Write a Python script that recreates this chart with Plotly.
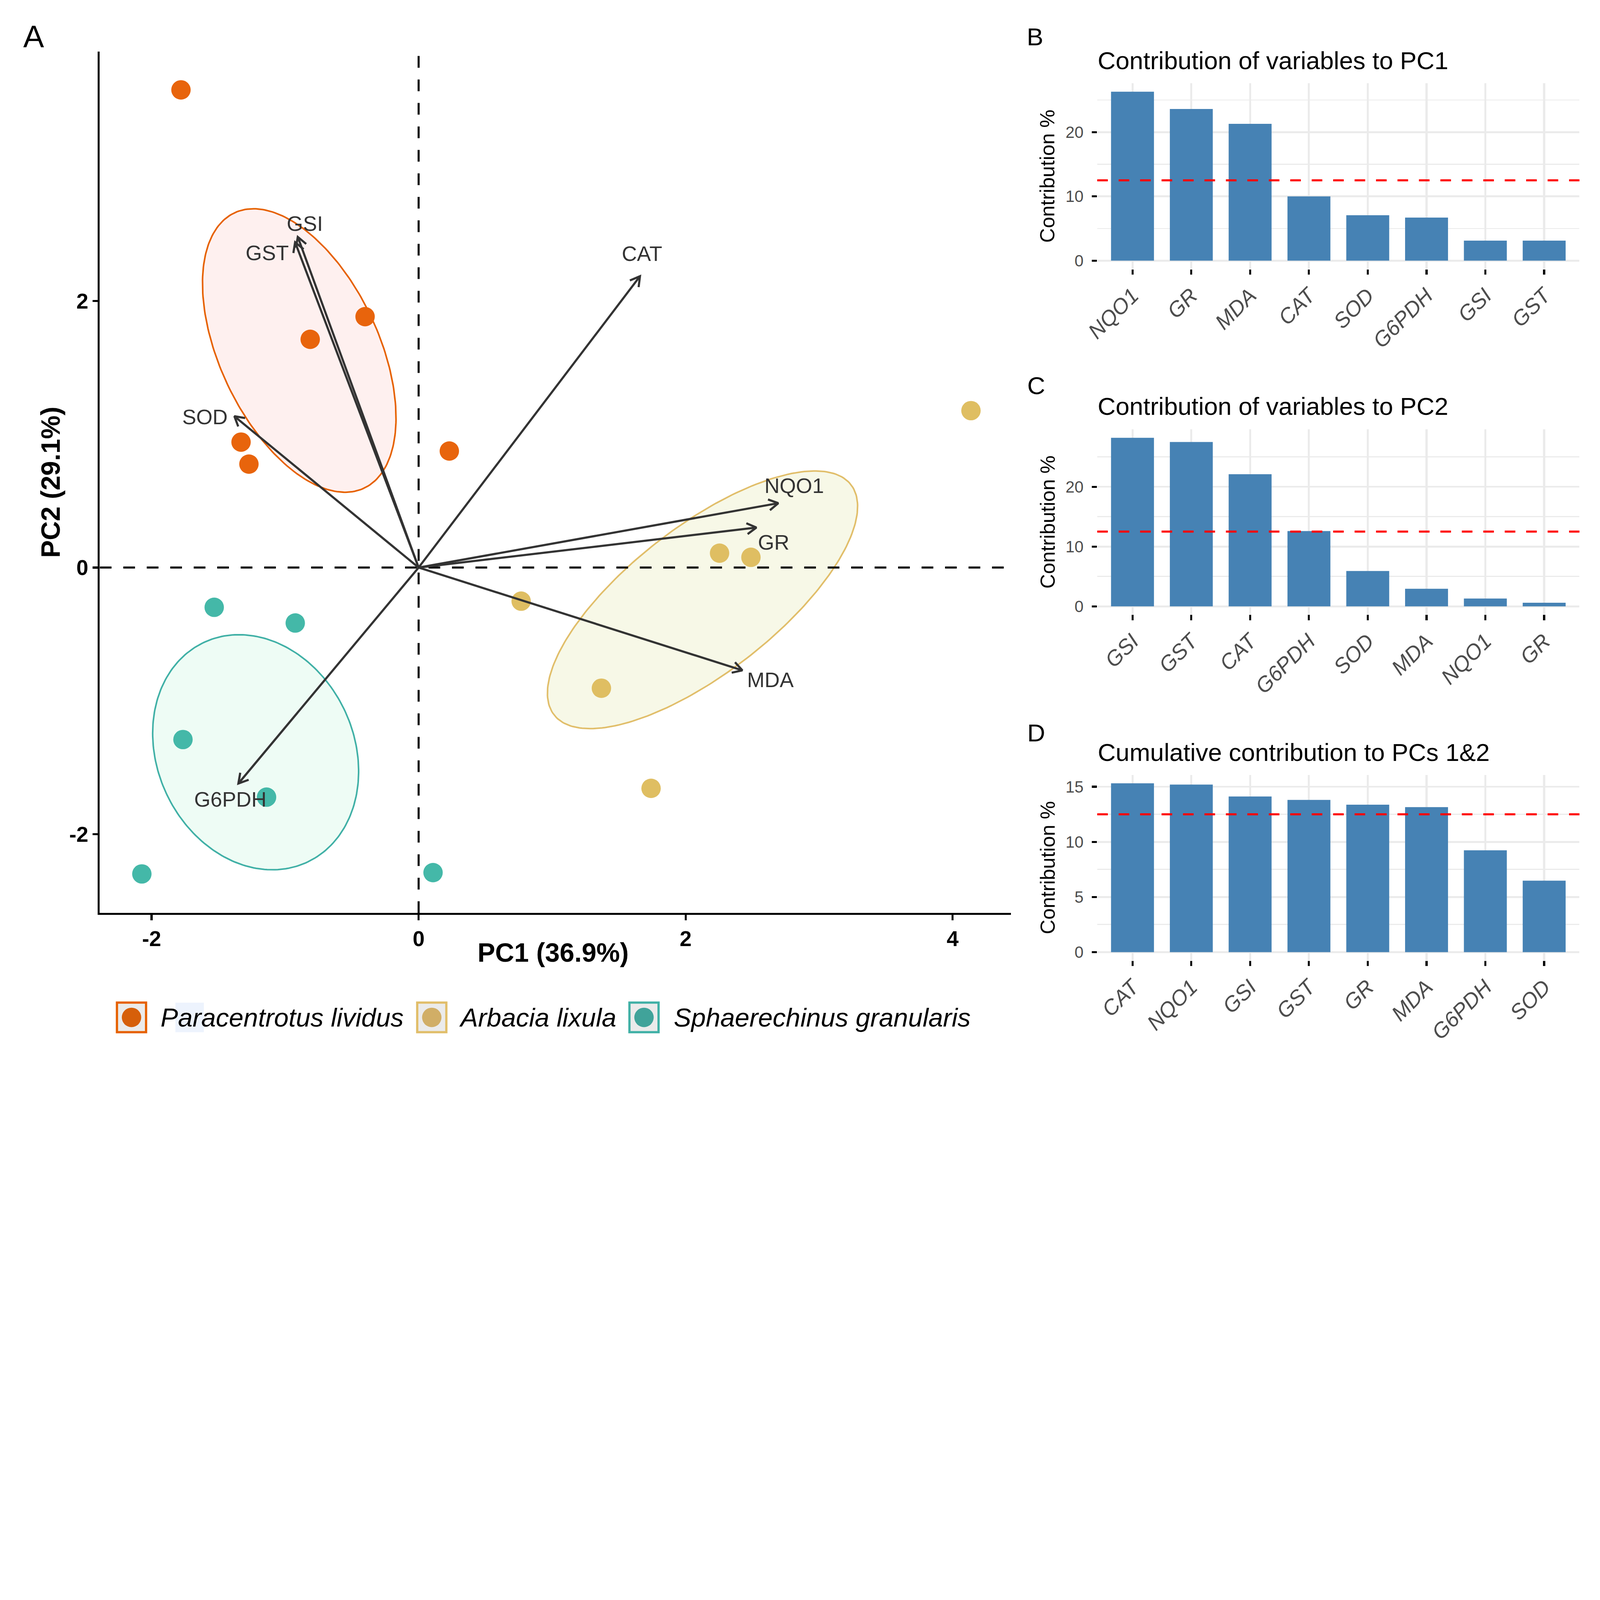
import numpy as np
import plotly.graph_objects as go

W, H = 7087, 4724
FONT = "Liberation Sans"

# ---------------- data ----------------
species = ["Paracentrotus lividus", "Arbacia lixula", "Sphaerechinus granularis"]
pl_x = [-1.780, -0.401, -0.812, -1.330, -1.271, 0.230]
pl_y = [3.583, 1.882, 1.712, 0.941, 0.776, 0.874]
al_x = [4.137, 2.254, 2.489, 0.768, 1.369, 1.741]
al_y = [1.177, 0.108, 0.077, -0.252, -0.905, -1.656]
sg_x = [-1.531, -0.924, -1.765, -1.139, -2.073, 0.108]
sg_y = [-0.298, -0.416, -1.290, -1.722, -2.298, -2.288]

var_names = ["GSI", "GST", "SOD", "CAT", "NQO1", "GR", "MDA", "G6PDH"]
var_pc1 = [-0.905, -0.925, -1.380, 1.658, 2.694, 2.530, 2.425, -1.350]
var_pc2 = [2.480, 2.440, 1.135, 2.185, 0.483, 0.300, -0.771, -1.620]

pc1_vars = ["NQO1", "GR", "MDA", "CAT", "SOD", "G6PDH", "GSI", "GST"]
pc1_vals = [26.3, 23.6, 21.3, 10.0, 7.06, 6.70, 3.12, 3.12]
pc2_vars = ["GSI", "GST", "CAT", "G6PDH", "SOD", "MDA", "NQO1", "GR"]
pc2_vals = [28.2, 27.5, 22.1, 12.6, 5.92, 2.94, 1.30, 0.60]
pc12_vars = ["CAT", "NQO1", "GSI", "GST", "GR", "MDA", "G6PDH", "SOD"]
pc12_vals = [15.31, 15.20, 14.12, 13.81, 13.37, 13.15, 9.24, 6.48]
expected = 12.5

main_ticks = [-2, 0, 2, 4]
main_ticktext = ["-2", "0", "2", "4"]

# ---------------- styles ----------------
col_line = ["#E66100", "#E1BE6A", "#40B0A6"]
col_pt = ["#E8640C", "#DFBE62", "#44B8A8"]
col_fill = ["#FEF0EF", "#F7F8E7", "#EEFCF5"]
col_key = ["#D65F0A", "#D1AE66", "#40A39A"]
label_off = {"GSI": (0.053, 0.10), "GST": (-0.21, -0.08), "SOD": (-0.22, -0.005),
             "CAT": (0.014, 0.17), "NQO1": (0.12, 0.13), "GR": (0.13, -0.11),
             "MDA": (0.21, -0.07), "G6PDH": (-0.06, -0.12)}


def px(x):
    return x / W


def py(y):
    return 1 - y / H


def conf_ellipse(x, y, level_chi2=5.991464547, n=240):
    X = np.column_stack([x, y])
    m = X.mean(axis=0)
    C = np.cov(X.T) / len(x)
    vals, vecs = np.linalg.eigh(C)
    t = np.linspace(0, 2 * np.pi, n)
    circ = np.vstack([np.cos(t), np.sin(t)])
    pts = (vecs @ np.diag(np.sqrt(vals)) @ circ) * np.sqrt(level_chi2)
    return m[0] + pts[0], m[1] + pts[1]


fig = go.Figure()

groups = [(pl_x, pl_y), (al_x, al_y), (sg_x, sg_y)]
for i, (gx, gy) in enumerate(groups):
    ex, ey = conf_ellipse(gx, gy)
    fig.add_trace(go.Scatter(x=ex, y=ey, mode="lines", fill="toself",
                             fillcolor=col_fill[i], line=dict(color=col_line[i], width=7),
                             xaxis="x", yaxis="y", hoverinfo="skip"))

xr = [-2.388, 4.435]
yr = [-2.591, 3.871]
fig.add_trace(go.Scatter(x=xr, y=[0, 0], mode="lines",
                         line=dict(color="black", width=9, dash="52px,52px"),
                         xaxis="x", yaxis="y", hoverinfo="skip"))
fig.add_trace(go.Scatter(x=[0, 0], y=yr, mode="lines",
                         line=dict(color="black", width=9, dash="52px,52px"),
                         xaxis="x", yaxis="y", hoverinfo="skip"))

for i, (gx, gy) in enumerate(groups):
    fig.add_trace(go.Scatter(x=gx, y=gy, mode="markers", name=species[i],
                             marker=dict(color=col_pt[i], size=86, line=dict(width=0)),
                             xaxis="x", yaxis="y"))

L = 0.082
ang = np.deg2rad(30)
for name, tx, ty in zip(var_names, var_pc1, var_pc2):
    fig.add_trace(go.Scatter(x=[0, tx], y=[0, ty], mode="lines",
                             line=dict(color="#333333", width=9.5),
                             xaxis="x", yaxis="y", hoverinfo="skip"))
    d = np.array([tx, ty]) / np.hypot(tx, ty)
    b = -d
    hx, hy = [], []
    for s in (ang, -ang):
        r = np.array([b[0] * np.cos(s) - b[1] * np.sin(s), b[0] * np.sin(s) + b[1] * np.cos(s)])
        hx.append(tx + L * r[0])
        hy.append(ty + L * r[1])
    fig.add_trace(go.Scatter(x=[hx[0], tx, hx[1]], y=[hy[0], ty, hy[1]], mode="lines",
                             line=dict(color="#333333", width=9.5),
                             xaxis="x", yaxis="y", hoverinfo="skip"))

annotations = []
for name, tx, ty in zip(var_names, var_pc1, var_pc2):
    ox, oy = label_off[name]
    annotations.append(dict(x=tx + ox, y=ty + oy, xref="x", yref="y", text=name,
                            showarrow=False, xanchor="center", yanchor="middle",
                            font=dict(family=FONT, size=93, color="#333333")))

bar_sets = [(pc1_vars, pc1_vals, "x2", "y2"), (pc2_vars, pc2_vals, "x3", "y3"),
            (pc12_vars, pc12_vals, "x4", "y4")]
for cats, vals, xa, ya in bar_sets:
    fig.add_trace(go.Bar(x=cats, y=vals, width=0.73, marker=dict(color="#4682B4", line=dict(width=0)),
                         xaxis=xa, yaxis=ya))

shapes = []
for cats, vals, xa, ya in bar_sets:
    shapes.append(dict(type="line", xref=xa + " domain", yref=ya, x0=0, x1=1, y0=expected, y1=expected,
                       line=dict(color="red", width=9, dash="47px,48px")))

bx0, bx1 = px(4860), px(6996)
bar_doms = [(py(1192), py(369)), (py(2723), py(1902)), (py(4255), py(3432))]
bar_ranges = [[-1.32, 27.6], [-1.41, 29.6], [-0.77, 16.08]]
bar_dticks = [10, 10, 5]

layout = dict(
    width=W, height=H, autosize=False, margin=dict(l=0, r=0, t=0, b=0, pad=0),
    paper_bgcolor="white", plot_bgcolor="white", showlegend=False,
    font=dict(family=FONT),
    xaxis=dict(domain=[px(442), px(4477)], range=xr, anchor="y", showgrid=False, zeroline=False,
               automargin=False,
               showline=True, linewidth=9, linecolor="black", ticks="outside", ticklen=23,
               tickwidth=9, tickcolor="black", tickvals=main_ticks, ticktext=main_ticktext,
               tickfont=dict(family=FONT, size=95, color="black", weight="bold")),
    yaxis=dict(domain=[py(4044), py(228)], range=yr, anchor="x", showgrid=False, zeroline=False,
               automargin=False,
               showline=True, linewidth=9, linecolor="black", ticks="outside", ticklen=23,
               tickwidth=9, tickcolor="black", tickvals=main_ticks[:3], ticktext=main_ticktext[:3],
               tickfont=dict(family=FONT, size=95, color="black", weight="bold")),
)
for k, (cats, vals, xa, ya) in enumerate(bar_sets):
    n = str(k + 2)
    layout["xaxis" + n] = dict(domain=[bx0, bx1], anchor="y" + n, range=[-0.6, 7.6],
                               type="category", showgrid=True, gridcolor="#EBEBEB", gridwidth=9,
                               automargin=False,
                               zeroline=False, showline=False, ticks="outside", ticklen=23,
                               tickwidth=9, tickcolor="black", tickangle=-45,
                               tickfont=dict(family=FONT, size=95, color="#4D4D4D", style="italic"))
    layout["yaxis" + n] = dict(domain=list(bar_doms[k]), anchor="x" + n, range=bar_ranges[k],
                               dtick=bar_dticks[k], tick0=0, showgrid=True, gridcolor="#EBEBEB",
                               automargin=False, ticklabelstandoff=22,
                               gridwidth=8, zeroline=False, showline=False, ticks="outside",
                               ticklen=23, tickwidth=9, tickcolor="black",
                               minor=dict(dtick=bar_dticks[k] / 2, tick0=0, showgrid=True,
                                          gridcolor="#EBEBEB", gridwidth=4.6, ticks=""),
                               tickfont=dict(family=FONT, size=72, color="#4D4D4D"))

annotations += [
    dict(x=px(2450), y=py(4219), text="PC1 (36.9%)", font=dict(family=FONT, size=117, color="black", weight="bold")),
    dict(x=px(225), y=py(2136), text="PC2 (29.1%)", textangle=-90,
         font=dict(family=FONT, size=117, color="black", weight="bold")),
    dict(x=px(101), y=py(162), text="A", xanchor="left", font=dict(family=FONT, size=138, color="black")),
    dict(x=px(4546), y=py(163), text="B", xanchor="left", font=dict(family=FONT, size=110, color="black")),
    dict(x=px(4548), y=py(1708), text="C", xanchor="left", font=dict(family=FONT, size=110, color="black")),
    dict(x=px(4548), y=py(3245), text="D", xanchor="left", font=dict(family=FONT, size=110, color="black")),
    dict(x=bx0, y=py(268), text="Contribution of variables to PC1", xanchor="left",
         font=dict(family=FONT, size=110, color="black")),
    dict(x=bx0, y=py(1799), text="Contribution of variables to PC2", xanchor="left",
         font=dict(family=FONT, size=110, color="black")),
    dict(x=bx0, y=py(3331), text="Cumulative contribution to PCs 1&amp;2", xanchor="left",
         font=dict(family=FONT, size=110, color="black")),
]
for (lo, hi) in bar_doms:
    annotations.append(dict(x=px(4640), y=(lo + hi) / 2, text="Contribution %", textangle=-90,
                            font=dict(family=FONT, size=90, color="black")))

key_x = [513, 1843, 2783]
txt_x = [709, 2032, 2982]
ky0, ky1 = 4436, 4577
shapes.append(dict(type="rect", xref="paper", yref="paper", x0=px(777), x1=px(903), y0=py(4572), y1=py(4441),
                   fillcolor="#EDF3FD", line=dict(width=0), layer="below"))
for i in range(3):
    shapes.append(dict(type="rect", xref="paper", yref="paper", x0=px(key_x[i] + 5), x1=px(key_x[i] + 134),
                       y0=py(ky1 - 5), y1=py(ky0 + 5), fillcolor="#EBEBEB",
                       line=dict(color=col_line[i], width=10)))
    cx, cy = key_x[i] + 69.5, (ky0 + ky1) / 2
    shapes.append(dict(type="circle", xref="paper", yref="paper", x0=px(cx - 43), x1=px(cx + 43),
                       y0=py(cy + 43), y1=py(cy - 43), fillcolor=col_key[i], line=dict(width=0)))
    annotations.append(dict(x=px(txt_x[i]), y=py(4507), text=species[i], xanchor="left",
                            font=dict(family=FONT, size=116, color="black", style="italic")))

for a in annotations:
    a.setdefault("xref", "paper")
    a.setdefault("yref", "paper")
    a.setdefault("showarrow", False)
    a.setdefault("xanchor", "center")
    a.setdefault("yanchor", "middle")

layout["annotations"] = annotations
layout["shapes"] = shapes
fig.update_layout(**layout)

# The browser viewport may be smaller than the figure; scale the whole figure
# uniformly so that it fits the window without cropping.
fit_js = """
(function(){
  var gd = document.getElementById('{plot_id}');
  var de = document.documentElement, bd = document.body;
  de.style.margin = '0'; de.style.padding = '0'; de.style.overflow = 'hidden';
  bd.style.margin = '0'; bd.style.padding = '0'; bd.style.overflow = 'hidden';
  bd.style.background = 'white';
  var wrap = gd.parentElement;
  function fit(){
    var vw = window.innerWidth, vh = window.innerHeight;
    var s = Math.min(vw / %d, vh / %d);
    if (!isFinite(s) || s <= 0) { s = 1; }
    gd.style.transformOrigin = '0 0';
    gd.style.transform = 'scale(' + s + ')';
    wrap.style.width = (%d * s) + 'px';
    wrap.style.height = (%d * s) + 'px';
    wrap.style.overflow = 'hidden';
  }
  fit();
  window.addEventListener('resize', fit);
})();
""" % (W, H, W, H)

fig.write_html("out.html", post_script=fit_js, config={"responsive": False, "displayModeBar": False})
